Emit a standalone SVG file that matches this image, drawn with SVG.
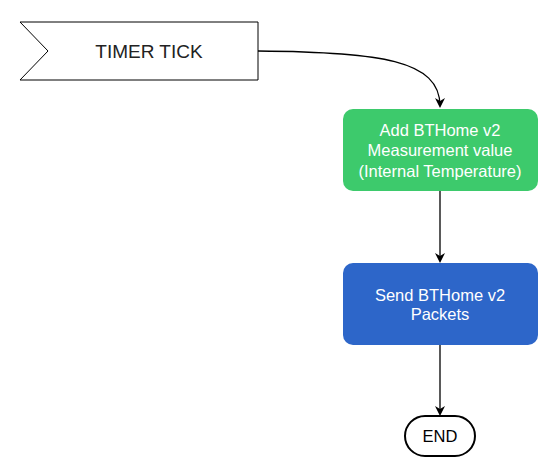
<svg xmlns="http://www.w3.org/2000/svg" width="555" height="476" viewBox="0 0 555 476">
<defs>
<style>
text{font-family:"Liberation Sans",Arial,sans-serif;text-anchor:middle;dominant-baseline:central}
.w{fill:#fff;font-size:16.5px}
.c{fill:none;stroke:#000;stroke-width:1.3}
</style>
<marker id="a" markerWidth="10" markerHeight="10" refX="8" refY="5" orient="auto" markerUnits="userSpaceOnUse">
<path d="M0,0 L10,5 L0,10 L3,5 Z" fill="#000"/>
</marker>
</defs>
<rect width="555" height="476" fill="#fff"/>
<g id="connectors">
<path class="c" d="M258,51 C380,52 440,60 440,106" marker-end="url(#a)"/>
<path class="c" d="M440,191 L440,261" marker-end="url(#a)"/>
<path class="c" d="M440,345 L440,414" marker-end="url(#a)"/>
</g>
<g id="timer">
<path d="M20,22 L258,22 L258,80 L20,80 L48,51 Z" fill="#fff" stroke="#000" stroke-width="1"/>
<text x="149" y="51" font-size="19" fill="#222">TIMER TICK</text>
</g>
<g id="add">
<rect x="343" y="109" width="195" height="82" rx="10" fill="#3DCA6C"/>
<text class="w" x="440" y="130">Add BTHome v2</text>
<text class="w" x="440" y="150">Measurement value</text>
<text class="w" x="440" y="171">(Internal Temperature)</text>
</g>
<g id="send">
<rect x="343" y="263" width="195" height="82" rx="10" fill="#2D66C9"/>
<text class="w" x="440" y="295">Send BTHome v2</text>
<text class="w" x="440" y="314">Packets</text>
</g>
<g id="end">
<rect x="405" y="416" width="70" height="40" rx="20" fill="#fff" stroke="#000" stroke-width="2"/>
<text x="440" y="436" font-size="16.5" fill="#000">END</text>
</g>
</svg>
